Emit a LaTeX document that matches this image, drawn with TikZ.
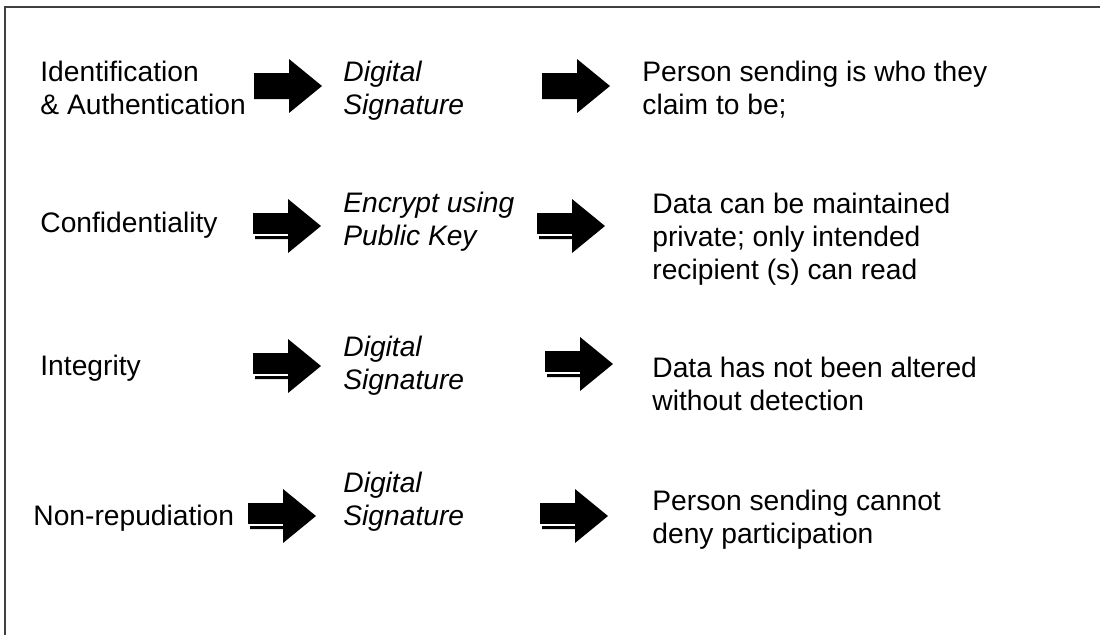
\documentclass[tikz,border=0pt]{standalone}
\usepackage{fontspec}
\setmainfont{Liberation Sans}
\begin{document}
\begin{tikzpicture}[x=0.5pt,y=-0.5pt,
    txt/.style={anchor=west,align=left,inner sep=0pt,font=\fontsize{14.1}{16.5}\selectfont},
    mid/.style={txt,font=\fontsize{14.1}{16.5}\selectfont\itshape},
    frame/.style={draw=black!75,line width=1pt},
    pics/blockarrow/.style={code={
      \fill[black] (0,-13) -- (35,-13) -- (35,-27) -- (68,0) -- (35,27) -- (35,13) -- (0,13) -- cycle;
    }},
    pics/shadearrow/.style={code={
      \fill[black] (0,-13) -- (35,-13) -- (35,-27) -- (68,0) -- (35,27) -- (35,13) -- (0,13) -- cycle;
      \draw[white,line width=0.8pt] (-1,9) -- (35,9);
      \fill[white] (-1,9) rectangle (2,14);
    }}]
    \useasboundingbox (0,0) rectangle (1100,634);
    % Marc
    \draw[frame] (5,7) rectangle (1110,650);

    % Fila 1
    \node[txt] (idn) at (40,88) {Identification\\\& Authentication};
    \node[mid] (ds1) at (343,91) {Digital\\Signature};
    \node[txt] (res1) at (642,90) {Person sending is who they\\claim to be;};
    \pic at (254,86) {blockarrow};
    \pic at (542,86) {blockarrow};

    % Fila 2
    \node[txt] (conf) at (40,225) {Confidentiality};
    \node[mid] (enc) at (343,222) {Encrypt using\\Public Key};
    \node[txt] (res2) at (652,239) {Data can be maintained\\private; only intended\\recipient (s) can read};

    % Fila 3
    \node[txt] (intg) at (40,368) {Integrity};
    \node[mid] (ds3) at (343,366) {Digital\\Signature};
    \node[txt] (res3) at (652,384) {Data has not been altered\\without detection};

    % Fila 4
    \node[txt] (nrep) at (33,518) {Non-repudiation};
    \node[mid] (ds4) at (343,502) {Digital\\Signature};
    \node[txt] (res4) at (652,520) {Person sending cannot\\deny participation};

    % Fletxes amb ombra
    \foreach \x/\y in {253/226,537/226,253/366,545/364,248/516,540/516} {
      \pic at (\x,\y) {shadearrow};
    }
\end{tikzpicture}
\end{document}
